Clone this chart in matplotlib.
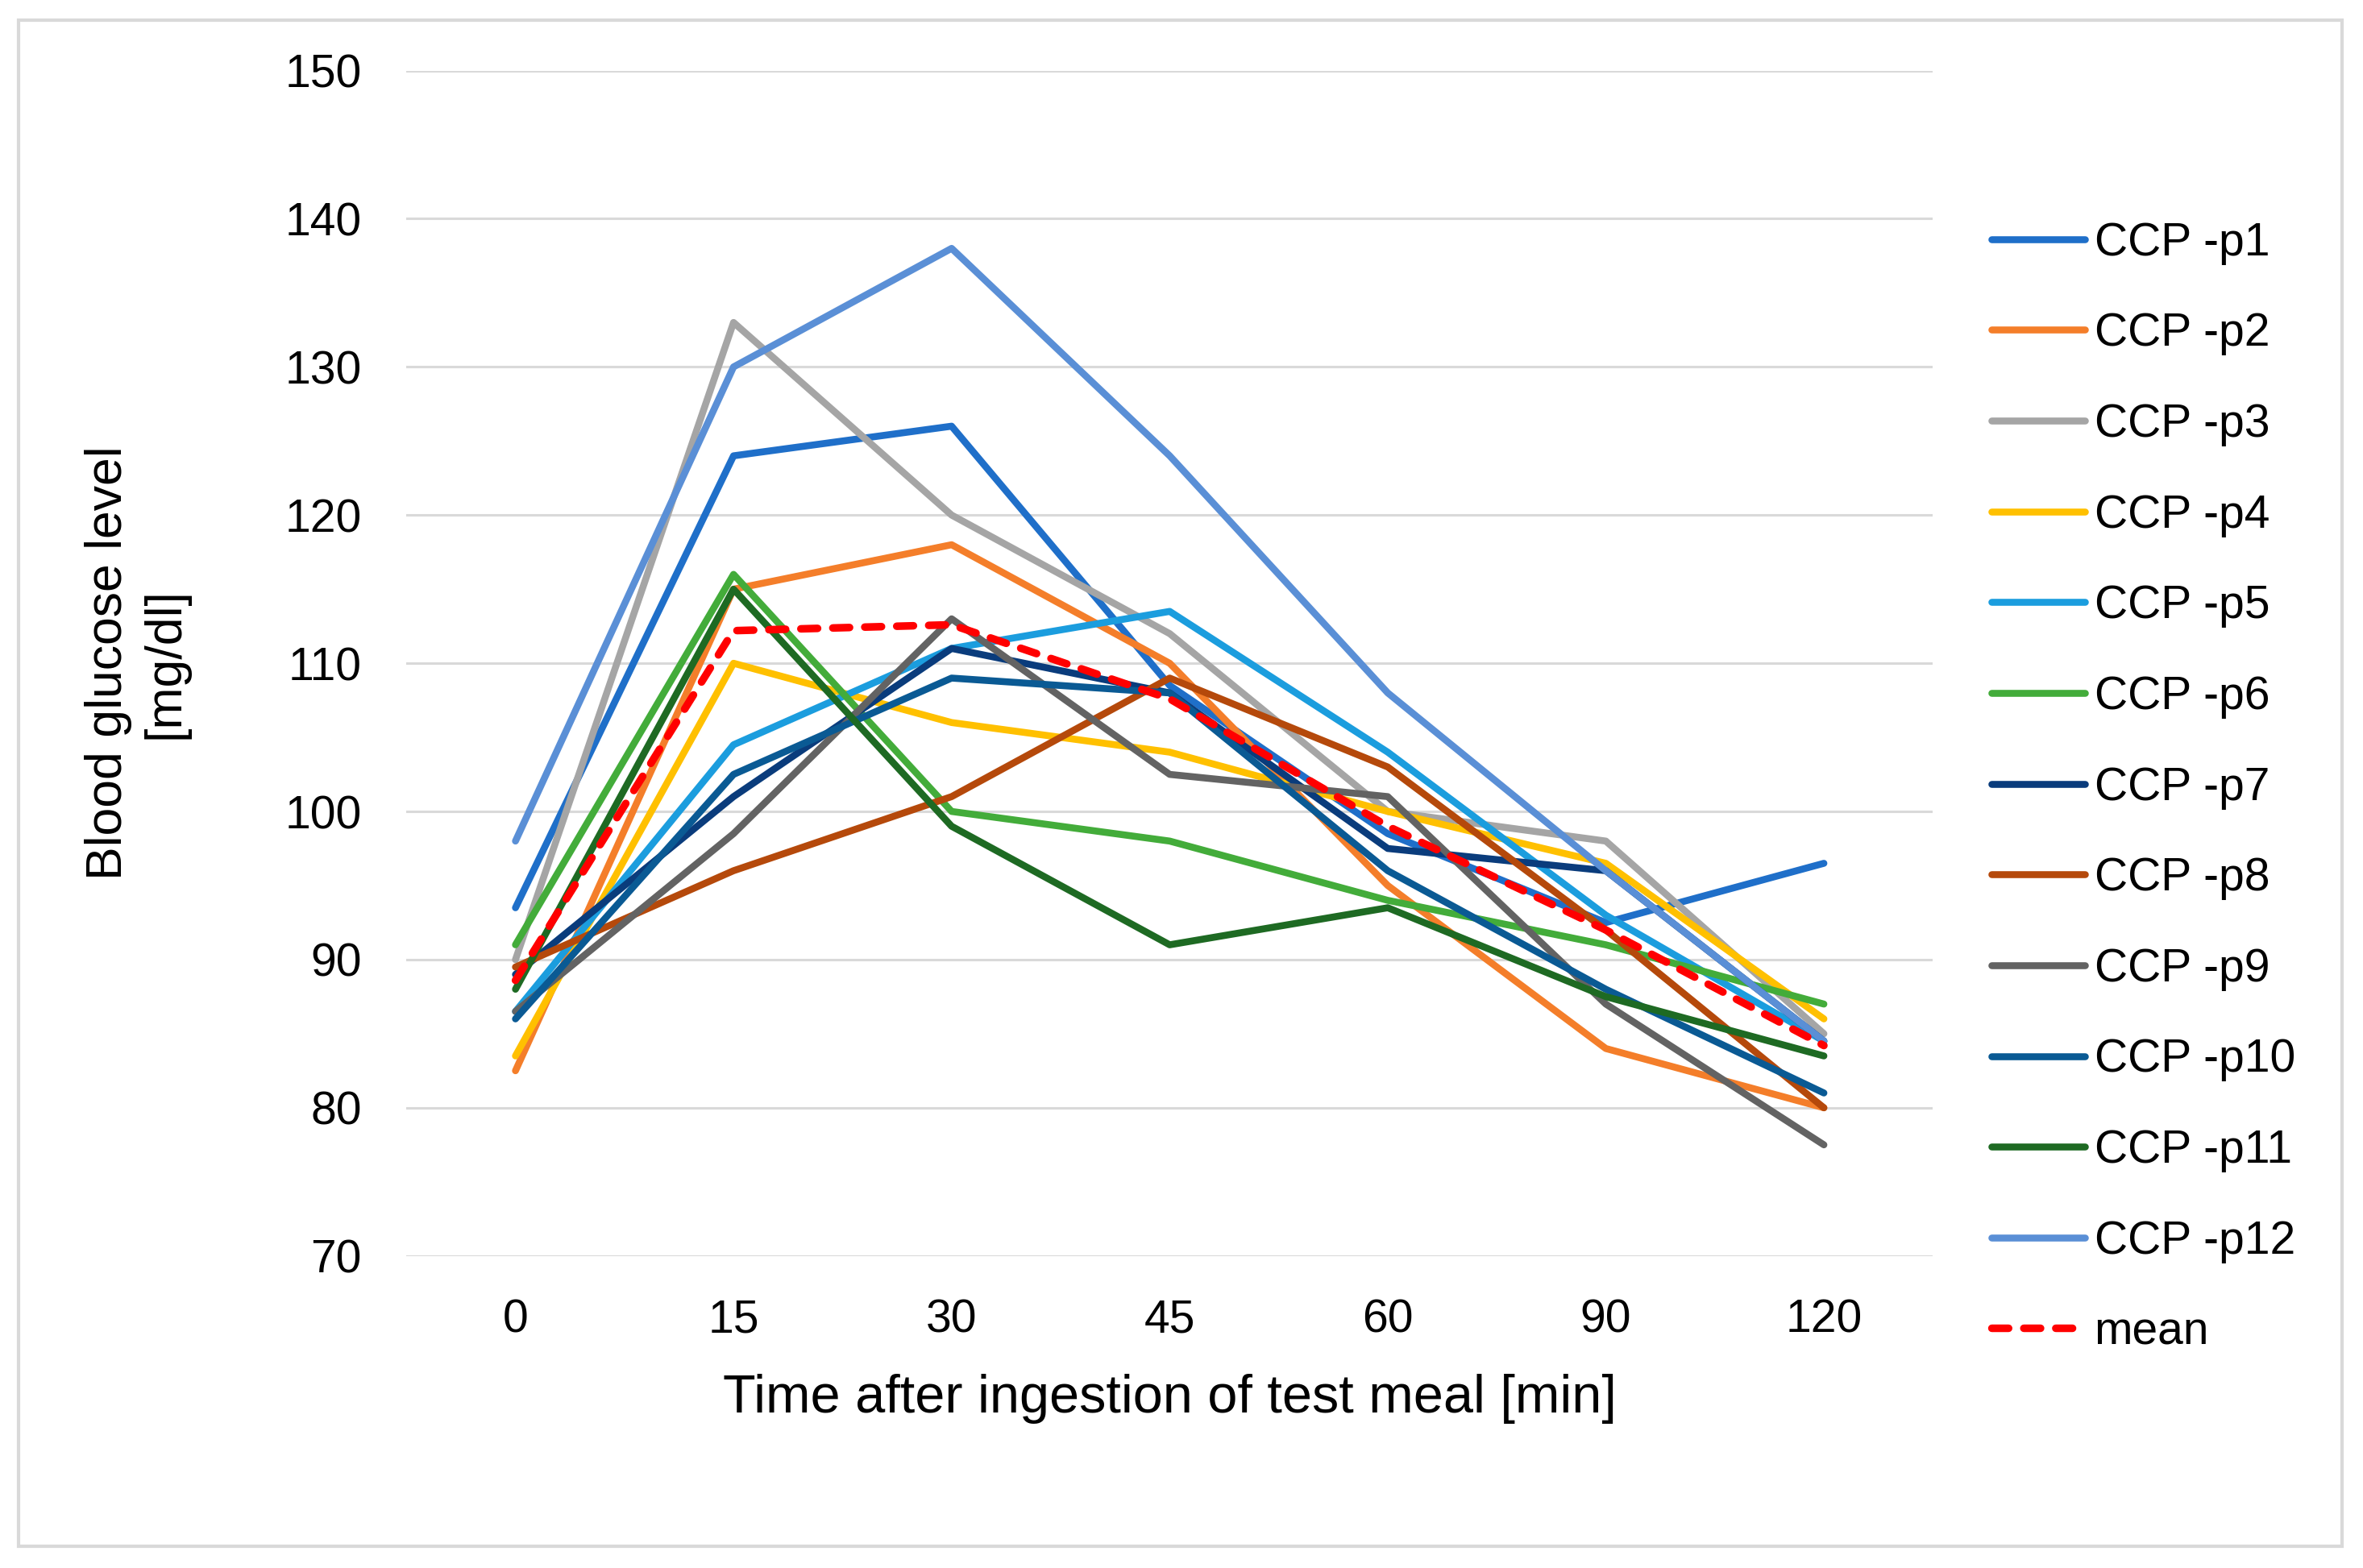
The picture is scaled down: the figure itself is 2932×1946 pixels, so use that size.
import matplotlib.pyplot as plt
from matplotlib.patches import Rectangle

plt.rcParams.update({
    "font.family": ["Liberation Sans", "DejaVu Sans"],
    "font.size": 20,
})

# time points (categorical axis)
times = ["0", "15", "30", "45", "60", "90", "120"]

# blood glucose per participant [mg/dl]
p1 = [93.5, 124, 126, 108.5, 98.5, 92.5, 96.5]
p2 = [82.5, 115, 118, 110, 95, 84, 80]
p3 = [90, 133, 120, 112, 100, 98, 85]
p4 = [83.5, 110, 106, 104, 100, 96.5, 86]
p5 = [86.5, 104.5, 111, 113.5, 104, 93, 84.5]
p6 = [91, 116, 100, 98, 94, 91, 87]
p7 = [89, 101, 111, 108, 97.5, 96, 84.5]
p8 = [89.5, 96, 101, 109, 103, 92, 80]
p9 = [86.5, 98.5, 113, 102.5, 101, 87, 77.5]
p10 = [86, 102.5, 109, 108, 96, 88, 81]
p11 = [88, 115, 99, 91, 93.5, 87.5, 83.5]
p12 = [98, 130, 138, 124, 108, 96, 84.5]
mean = [88.6, 112.2, 112.6, 107.6, 99, 92, 84.2]

participants = [p1, p2, p3, p4, p5, p6, p7, p8, p9, p10, p11, p12]
labels = [f"CCP -p{i}" for i in range(1, 13)]
colors = ["#1F6FC9", "#F47E2A", "#A5A5A5", "#FFC000", "#1B9DDE", "#43AC3A",
          "#0A3C7C", "#B5490B", "#636363", "#0A5A94", "#1E6A23", "#5A8FD6"]

fig = plt.figure(figsize=(14.66, 9.73), dpi=200)
ax = fig.add_axes([0.172, 0.199, 0.646, 0.756])

x = list(range(len(times)))
for vals, lab, col in zip(participants, labels, colors):
    ax.plot(x, vals, color=col, lw=3.1, label=lab, solid_capstyle="round", solid_joinstyle="round")
ax.plot(x, mean, color="#FF0000", lw=3.4, ls=(0, (2.2, 2.0)), dash_capstyle="round", label="mean")

ax.set_xlim(-0.5, len(times) - 0.5)
ax.set_ylim(70, 150)
ax.set_yticks(range(70, 151, 10))
ax.set_xticks(x)
ax.set_xticklabels(times)
ax.grid(axis="y", color="#D9D9D9", lw=1.1)
ax.set_axisbelow(True)
for s in ax.spines.values():
    s.set_visible(False)
ax.tick_params(axis="both", length=0, labelsize=20.5)
ax.tick_params(axis="y", pad=20)
ax.tick_params(axis="x", pad=19)

fig.text(0.495, 0.108, "Time after ingestion of test meal [min]", ha="center", va="center", fontsize=24)
fig.text(0.058, 0.577, "Blood glucose level\n[mg/dl]", ha="center", va="center",
         rotation=90, fontsize=22.5, multialignment="center", linespacing=1.25)

ax.legend(loc="upper left", bbox_to_anchor=(0.835, 0.8706), bbox_transform=fig.transFigure,
          frameon=False, fontsize=20.5, handlelength=2.04, handletextpad=0.2,
          labelspacing=1.03, borderaxespad=0)

fig.patches.append(Rectangle((0.008, 0.014), 0.983, 0.973, transform=fig.transFigure,
                             fill=False, edgecolor="#D9D9D9", lw=1.5))

fig.savefig("out.png", dpi=200, facecolor="white")
